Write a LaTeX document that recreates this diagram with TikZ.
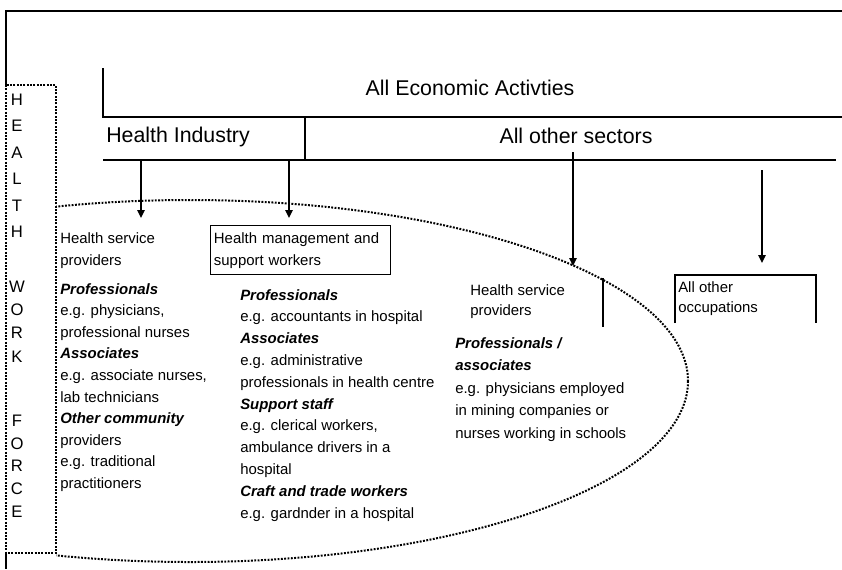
\documentclass[tikz,border=0pt]{standalone}
\usepackage{fontspec}
\setmainfont{Liberation Sans}
\usetikzlibrary{arrows.meta}

\newcommand{\wfhead}[1]{\textbf{\textit{#1}}}

\begin{document}
\begin{tikzpicture}
    [x=0.75pt, y=-0.75pt,
    frame/.style={line width=1.1pt},
    dots/.style={line width=1.5pt, dash pattern=on 1.4pt off 1.1pt},
    ->-/.style={line width=1.1pt, -{Triangle[length=6pt,width=5.5pt]}},
    head/.style={font=\fontsize{16}{19}\selectfont, inner sep=0pt},
    small/.style={align=left, anchor=north west, inner sep=0pt},
    letter/.style={font=\fontsize{12.5}{15}\selectfont, inner sep=0pt}]
        \useasboundingbox (0,0) rectangle (842,569);

        %% outer frame
        \draw[frame] (6,85) -- (6,11) -- (842,11);
        \draw[line width=1.6pt] (6,553) -- (6,569);

        %% sectors
        \node[head] (all) at (470,88) {All Economic Activties};
        \draw[frame] (103,68) -- (103,117) -- (305,117);
        \draw[line width=2pt] (305,117) -- (842,117);
        \draw[frame] (305,117) -- (305,160);
        \draw[frame] (103,160) -- (836,160);
        \node[head, anchor=west] (ind) at (106,137) {Health Industry};
        \node[head] (oth) at (576,136) {All other sectors};

        %% health workforce
        \draw[dots] (6,85) rectangle (56,553);
        \foreach \l/\y in {H/100, E/126, A/153, L/179, T/206, H/232,
                           W/287, O/310, R/333, K/357,
                           F/421, O/444, R/466, C/489, E/512}
            \node[letter] (wf\y) at (17,\y) {\l};
        \begin{scope}
            \clip (56,0) rectangle (842,569);
            \draw[dots] (190,381) ellipse [x radius=498, y radius=181];
        \end{scope}

        %% arrows down from the sectors
        \coordinate (hi1) at (141,160);
        \coordinate (hi1t) at (141,218);
        \coordinate (hi2) at (289,160);
        \coordinate (hi2t) at (289,218);
        \coordinate (os1) at (573,152);
        \coordinate (os1t) at (573,266);
        \coordinate (os2) at (762,170);
        \coordinate (os2t) at (762,263);
        \draw[->-] (hi1) -- (hi1t);
        \draw[->-] (hi2) -- (hi2t);
        \draw[->-] (os1) -- (os1t);
        \draw[->-] (os2) -- (os2t);

        %% health industry: service providers
        \node[small, font=\fontsize{11.2}{16.5}\selectfont] (hsp) at (60,232) {Health service\\providers};
        \node[small, font=\fontsize{11.2}{16.2}\selectfont] (hspl) at (60,283)
            {\wfhead{Professionals}\\e.g. physicians,\\professional nurses\\
             \wfhead{Associates}\\e.g. associate nurses,\\lab technicians\\
             \wfhead{Other community}\\providers\\e.g. traditional\\practitioners};

        %% health industry: management and support
        \node[small, draw, line width=0.9pt, font=\fontsize{11.2}{16.5}\selectfont,
              text width=130pt, inner xsep=2.5pt, inner ysep=5pt] (hmw) at (210,225)
            {Health management and\\support workers};
        \node[small, font=\fontsize{11.2}{16.35}\selectfont] (hmwl) at (240,289)
            {\wfhead{Professionals}\\e.g. accountants in hospital\\
             \wfhead{Associates}\\e.g. administrative\\professionals in health centre\\
             \wfhead{Support staff}\\e.g. clerical workers,\\ambulance drivers in a\\hospital\\
             \wfhead{Craft and trade workers}\\e.g. gardnder in a hospital};

        %% other sectors
        \node[small, font=\fontsize{11.2}{15}\selectfont] (osp) at (470,284) {Health service\\providers};
        \draw[frame] (603,278) -- (603,327);
        \node[small, font=\fontsize{11.2}{16.9}\selectfont] (ospl) at (455,337)
            {\wfhead{Professionals /}\\\wfhead{associates}\\e.g. physicians employed\\
             in mining companies or\\nurses working in schools};
        \draw[frame] (675,323) |- (816,275) -- (816,323);
        \node[small, font=\fontsize{11.2}{15}\selectfont] (occ) at (678,281) {All other\\occupations};
    \end{tikzpicture}
\end{document}
